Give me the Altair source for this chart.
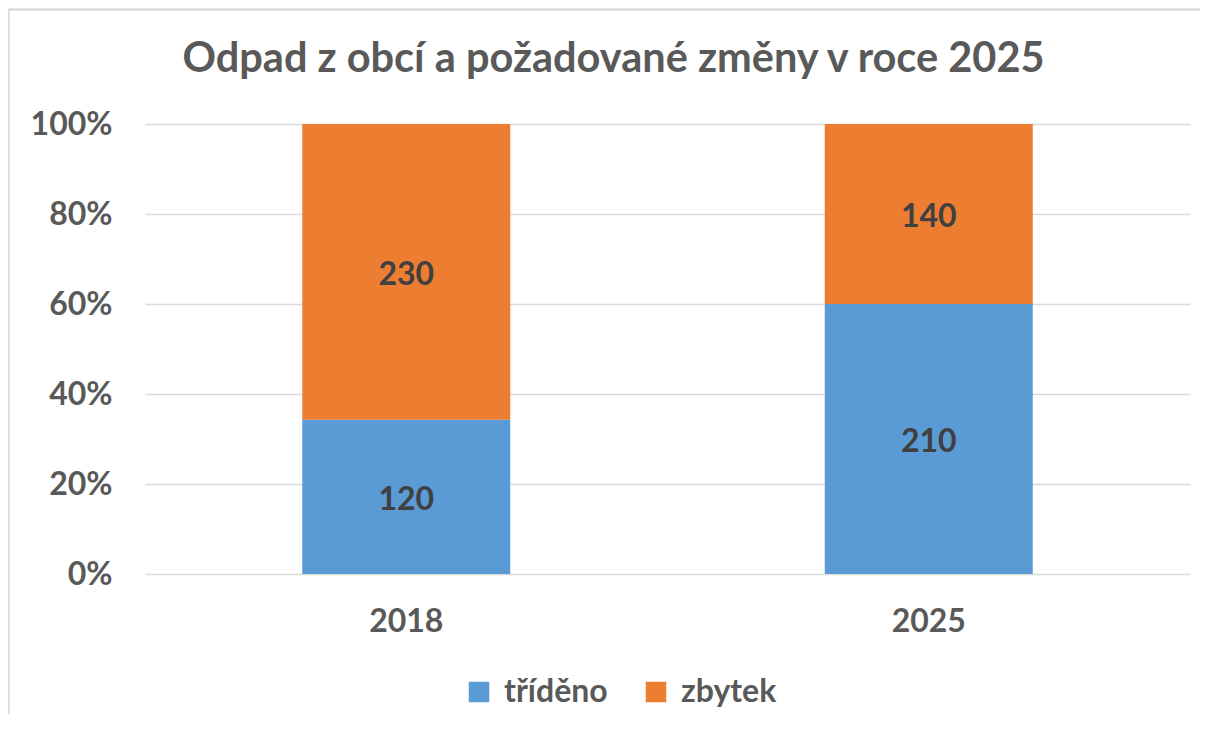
import altair as alt
import pandas as pd

years = ["2018", "2025"]
series = ["tříděno", "zbytek"]
tridene = [120, 210]
zbytek = [230, 140]
colors = ["#5B9BD5", "#ED7D31"]

rows = []
for i, y in enumerate(years):
    rows.append({"year": y, "series": series[0], "value": tridene[i], "ord": 0})
    rows.append({"year": y, "series": series[1], "value": zbytek[i], "ord": 1})
df = pd.DataFrame(rows)

FONT = "Lato"
GRAY = "#595959"

base = alt.Chart(df).transform_stack(
    stack="value", groupby=["year"], as_=["y0", "y1"], offset="normalize",
    sort=[alt.SortField("ord", order="ascending")]
).transform_calculate(mid="(datum.y0 + datum.y1) / 2")

x = alt.X("year:N", title=None,
          scale=alt.Scale(paddingInner=0, paddingOuter=0),
          axis=alt.Axis(labelAngle=0, labelFont=FONT, labelFontWeight="bold",
                        labelFontSize=32, labelColor=GRAY, ticks=False,
                        domain=False, labelPadding=32))

bars = base.mark_bar(size=208).encode(
    x=x,
    y=alt.Y("y0:Q", title=None, scale=alt.Scale(domain=[0, 1]),
            axis=alt.Axis(format=".0%", values=[0, 0.2, 0.4, 0.6, 0.8, 1.0],
                          labelFont=FONT, labelFontWeight="bold", labelFontSize=32,
                          labelColor=GRAY, ticks=False, domain=False,
                          labelPadding=33, gridColor="#D9D9D9", gridWidth=1.5)),
    y2="y1:Q",
    color=alt.Color("series:N", scale=alt.Scale(domain=series, range=colors),
                    legend=alt.Legend(title=None, orient="none", direction="horizontal",
                                      legendX=318, legendY=552, symbolType="square",
                                      symbolSize=420, symbolStrokeWidth=0,
                                      labelFont=FONT, labelFontWeight="bold",
                                      labelFontSize=32, labelColor=GRAY,
                                      labelOffset=9, columnPadding=32, padding=0)),
)

labels = base.mark_text(font=FONT, fontWeight="bold", fontSize=32,
                        color="#404040", baseline="middle", dy=3).encode(
    x=alt.X("year:N"),
    y=alt.Y("mid:Q"),
    text=alt.Text("value:Q"),
)

frame_left = alt.Chart(df).mark_rule(color="#D9D9D9", strokeWidth=1.5).encode(
    x=alt.value(-136.5), y=alt.value(-114.5), y2=alt.value(700))
frame_top = alt.Chart(df).mark_rule(color="#D9D9D9", strokeWidth=1.5).encode(
    x=alt.value(-136.5), x2=alt.value(1200), y=alt.value(-114.5))

chart = alt.layer(frame_left, frame_top, bars, labels).properties(
    width=1045, height=450,
    title=alt.TitleParams("Odpad z obcí a požadované změny v roce 2025",
                          font=FONT, fontWeight="bold", fontSize=41.5, color=GRAY,
                          anchor="middle", frame="group", baseline="top",
                          offset=-72, dx=-54),
    autosize=alt.AutoSizeParams(type="none"),
    padding={"left": 137, "top": 116, "right": 10, "bottom": 140},
).configure_view(stroke=None)

chart.save("out.html", embed_options={"renderer": "svg", "actions": False})
